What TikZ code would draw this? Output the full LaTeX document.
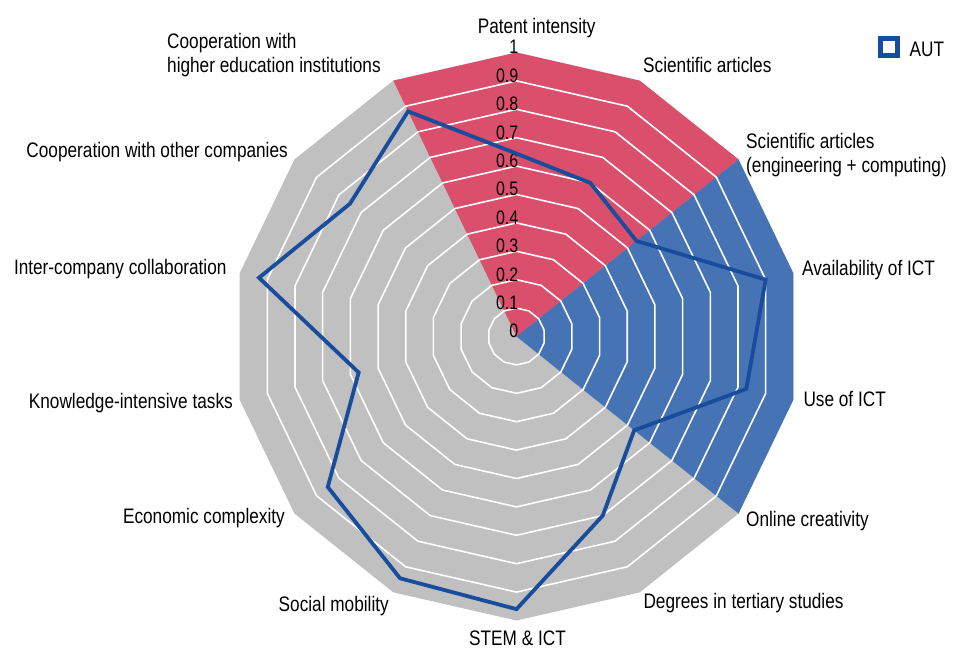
\documentclass[tikz,border=0pt]{standalone}
\usepackage{fontspec}
\setmainfont{Liberation Sans}[FakeStretch=0.82]
\definecolor{areagray}{RGB}{192,192,192}
\definecolor{areared}{RGB}{218,79,107}
\definecolor{areablue}{RGB}{70,115,180}
\definecolor{autblue}{RGB}{24,76,156}
\tikzset{
  lbl/.style={font=\fontsize{21}{24.5}\selectfont, inner sep=0pt},
  tick/.style={font=\fontsize{19.5}{22}\selectfont, inner sep=0pt, anchor=base east},
  ring/.style={white, line width=1.6pt},
  aut/.style={autblue, line width=3.8pt, line join=miter}
}

\begin{document}
\begin{tikzpicture}[x=1pt,y=1pt]
    \useasboundingbox (-516.5,-311.5) rectangle (436.5,336.5);
    \def\R{284}
    \fill[areagray] (90:\R) \foreach \k in {1,...,13} { -- ({90-\k*360/14}:\R) } -- cycle;
    \fill[areared] (0,0) \foreach \k in {-1,...,2} { -- ({90-\k*360/14}:\R) } -- cycle;
    \fill[areablue] (0,0) \foreach \k in {2,...,5} { -- ({90-\k*360/14}:\R) } -- cycle;
    \foreach \i in {1,...,9}
      \draw[ring] (90:\i*\R/10) \foreach \k in {1,...,13} { -- ({90-\k*360/14}:{\i*\R/10}) } -- cycle;
    \foreach \t [count=\i from 0] in {0,0.1,0.2,0.3,0.4,0.5,0.6,0.7,0.8,0.9,1}
      \node[tick] (t\i) at (2,{\i*\R/10-1.4}) {\t};
    \foreach \v [count=\k from 0] in {0.644,0.60,0.54,0.90,0.83,0.53,0.70,0.96,0.945,0.85,0.57,0.93,0.75,0.88}
      \coordinate (p\k) at ({90-\k*360/14}:{\v*\R});
    \draw[aut] (p0) \foreach \k in {1,...,13} { -- (p\k) } -- cycle;

    \node[lbl, anchor=base] (patent) at (20.2,303.2) {Patent intensity};
    \node[lbl, anchor=base west] (sciart) at (126.5,264) {Scientific articles};
    \node[lbl, anchor=west, align=left] (scieng) at (229.5,181.6) {Scientific articles\\(engineering + computing)};
    \node[lbl, anchor=base west] (avail) at (285.5,61) {Availability of ICT};
    \node[lbl, anchor=base west] (useict) at (286.8,-70.2) {Use of ICT};
    \node[lbl, anchor=base west] (online) at (229.5,-190) {Online creativity};
    \node[lbl, anchor=base west] (degrees) at (126.8,-271.8) {Degrees in tertiary studies};
    \node[lbl, anchor=base] (stem) at (1,-308.6) {STEM \& ICT};
    \node[lbl, anchor=base east] (social) at (-127.5,-275) {Social mobility};
    \node[lbl, anchor=base east] (econ) at (-231.5,-187) {Economic complexity};
    \node[lbl, anchor=base east] (knowledge) at (-283.5,-72) {Knowledge-intensive tasks};
    \node[lbl, anchor=base east] (inter) at (-289.8,62) {Inter-company collaboration};
    \node[lbl, anchor=base east] (coopcomp) at (-228.5,179) {Cooperation with other companies};
    \node[lbl, anchor=west, align=left] (coopedu) at (-349.5,281.2) {Cooperation with\\higher education institutions};

    \node[draw=autblue, line width=5pt, minimum size=17pt, inner sep=0pt] (key) at (372.5,289) {};
    \node[lbl, anchor=base west] (keylbl) at (393,280) {AUT};
\end{tikzpicture}
\end{document}
